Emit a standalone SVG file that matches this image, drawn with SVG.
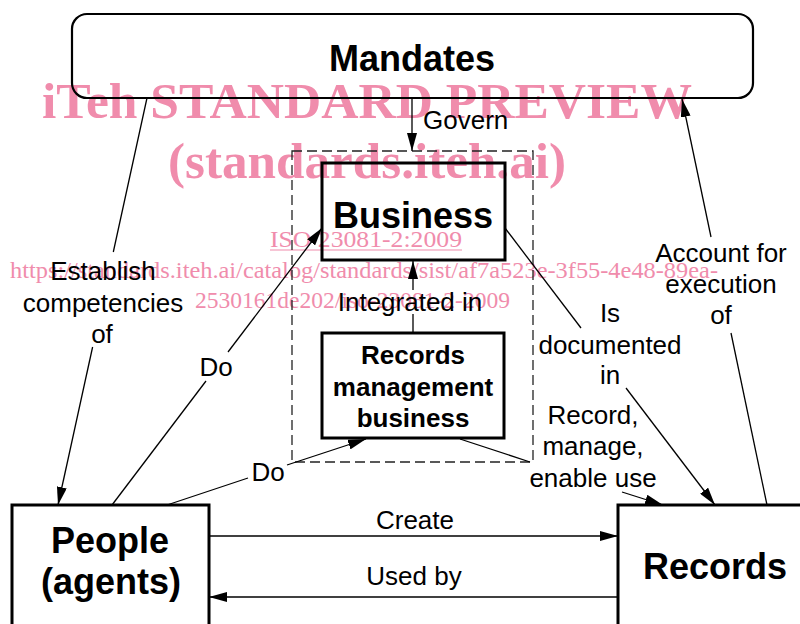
<svg xmlns="http://www.w3.org/2000/svg" width="800" height="624" viewBox="0 0 800 624">
  <style>
    .box { fill: none; stroke: #000; stroke-width: 3; }
    .title { font-family: "Liberation Sans", Arial, sans-serif; font-weight: bold; font-size: 36px; text-anchor: middle; fill: #000; }
    .sub { font-family: "Liberation Sans", Arial, sans-serif; font-weight: bold; font-size: 26px; text-anchor: middle; fill: #000; }
    .lbl { font-family: "Liberation Sans", Arial, sans-serif; font-size: 26px; text-anchor: middle; fill: #000; }
    .lbl-start { font-family: "Liberation Sans", Arial, sans-serif; font-size: 26px; text-anchor: start; fill: #000; }
    .edge { fill: none; stroke: #000; stroke-width: 1.3; }
    .wm { font-family: "Liberation Serif", "Times New Roman", serif; fill: #F08CAC; }
    .wmb { font-weight: bold; font-size: 51px; }
    .wms { font-size: 24px; }
  </style>
  <defs>
    <marker id="arrow" markerUnits="userSpaceOnUse" markerWidth="18" markerHeight="10" refX="18" refY="5" orient="auto">
      <path d="M0,0 L18,5 L0,10 z" fill="#000"/>
    </marker>
  </defs>
  <rect width="800" height="624" fill="#fff"/>

  <!-- watermark text, drawn underneath the diagram -->
  <g id="watermark" class="wm">
    <text class="wmb" x="42" y="118" textLength="650" lengthAdjust="spacingAndGlyphs">iTeh STANDARD PREVIEW</text>
    <text class="wmb" x="168" y="178" textLength="398" lengthAdjust="spacingAndGlyphs">(standards.iteh.ai)</text>
    <text class="wms" x="270" y="247" textLength="192" lengthAdjust="spacingAndGlyphs">ISO 23081-2:2009</text>
    <line x1="270" y1="250" x2="462" y2="250" stroke="#F08CAC" stroke-width="1.2"/>
    <text class="wms" x="10" y="278" textLength="708" lengthAdjust="spacingAndGlyphs">https://standards.iteh.ai/catalog/standards/sist/af7a523e-3f55-4e48-89ea-</text>
    <text class="wms" x="195" y="308" textLength="315" lengthAdjust="spacingAndGlyphs">2530161de202/iso-23081-2-2009</text>
  </g>

  <g id="node-mandates">
    <rect x="72" y="14" width="681" height="84" rx="15" ry="15" fill="none" stroke="#000" stroke-width="2.2"/>
    <text class="title" x="412" y="71" font-size="37">Mandates</text>
  </g>

  <g id="scope">
    <rect x="292" y="151" width="241" height="311" fill="none" stroke="#222" stroke-width="1.3" stroke-dasharray="10,5"/>
  </g>

  <g id="node-business">
    <rect class="box" x="322" y="163" width="183" height="97"/>
    <text class="title" x="413" y="228">Business</text>
  </g>

  <g id="node-rm">
    <rect class="box" x="322" y="333" width="182" height="105"/>
    <text class="sub" x="413" y="364">Records</text>
    <text class="sub" x="413" y="396">management</text>
    <text class="sub" x="413" y="427">business</text>
  </g>

  <g id="node-people">
    <rect class="box" x="12" y="505" width="197" height="130"/>
    <text class="title" x="110" y="553">People</text>
    <text class="title" x="111" y="594">(agents)</text>
  </g>

  <g id="node-records">
    <rect class="box" x="618" y="505" width="200" height="130"/>
    <text class="title" x="715" y="579">Records</text>
  </g>

  <g id="connectors">
    <!-- Govern -->
    <line class="edge" x1="412" y1="98" x2="412" y2="151" marker-end="url(#arrow)"/>
    <text class="lbl-start" x="423" y="129">Govern</text>

    <!-- Integrated in -->
    <line class="edge" x1="413" y1="333" x2="413" y2="314"/>
    <line class="edge" x1="413" y1="290" x2="413" y2="261" marker-end="url(#arrow)"/>
    <text class="lbl" x="410" y="311">Integrated in</text>

    <!-- Establish competencies of -->
    <line class="edge" x1="147" y1="98" x2="113.3" y2="252"/>
    <line class="edge" x1="92.6" y1="347" x2="58" y2="505" marker-end="url(#arrow)"/>
    <text class="lbl" x="103" y="280">Establish</text>
    <text class="lbl" x="103" y="312">competencies</text>
    <text class="lbl" x="102" y="343">of</text>

    <!-- Do (business) -->
    <line class="edge" x1="112" y1="505" x2="206" y2="381"/>
    <line class="edge" x1="228" y1="352" x2="322" y2="228" marker-end="url(#arrow)"/>
    <text class="lbl" x="216" y="376">Do</text>

    <!-- Do (records management business) -->
    <line class="edge" x1="167" y1="505" x2="248" y2="478"/>
    <line class="edge" x1="287" y1="465" x2="366" y2="439" marker-end="url(#arrow)"/>
    <text class="lbl" x="268" y="481">Do</text>

    <!-- Is documented in -->
    <line class="edge" x1="505" y1="228" x2="581" y2="328"/>
    <line class="edge" x1="626" y1="388" x2="715" y2="505" marker-end="url(#arrow)"/>
    <text class="lbl" x="610" y="322">Is</text>
    <text class="lbl" x="610" y="354">documented</text>
    <text class="lbl" x="610" y="384">in</text>

    <!-- Account for execution of -->
    <line class="edge" x1="767" y1="505" x2="731" y2="333"/>
    <line class="edge" x1="711" y1="237" x2="682" y2="99" marker-end="url(#arrow)"/>
    <text class="lbl" x="721" y="262">Account for</text>
    <text class="lbl" x="721" y="293">execution</text>
    <text class="lbl" x="721" y="324">of</text>

    <!-- Record, manage, enable use -->
    <line class="edge" x1="460" y1="439" x2="530" y2="462"/>
    <line class="edge" x1="622" y1="492" x2="663" y2="505" marker-end="url(#arrow)"/>
    <text class="lbl" x="593" y="424">Record,</text>
    <text class="lbl" x="593" y="455">manage,</text>
    <text class="lbl" x="593" y="487">enable use</text>

    <!-- Create / Used by -->
    <line class="edge" x1="209" y1="536" x2="618" y2="536" marker-end="url(#arrow)"/>
    <text class="lbl" x="415" y="529">Create</text>
    <line class="edge" x1="618" y1="597" x2="209" y2="597" marker-end="url(#arrow)"/>
    <text class="lbl" x="414" y="585">Used by</text>
  </g>
</svg>
